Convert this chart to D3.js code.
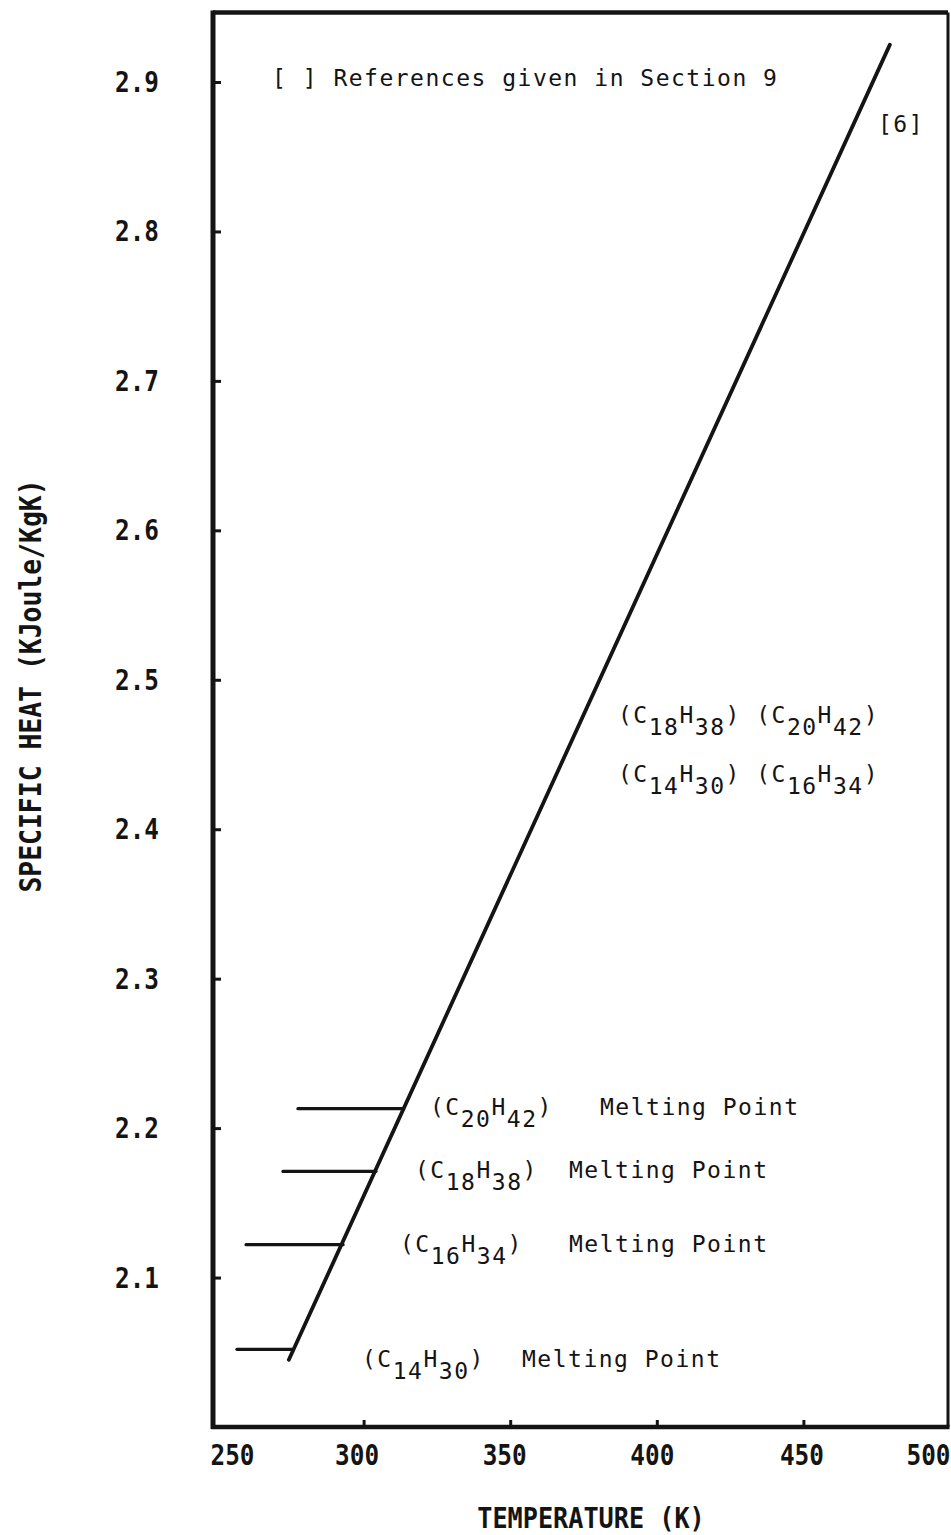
<!DOCTYPE html>
<html><head><meta charset="utf-8">
<script src="https://cdn.jsdelivr.net/npm/d3@7"></script>
<style>body{margin:0;background:#fff}svg{display:block}</style>
</head><body><svg id="c" width="951" height="1535"></svg>
<script>
// ---- data ----
const xTicks = [250, 300, 350, 400, 450, 500];
const yTicks = [2.1, 2.2, 2.3, 2.4, 2.5, 2.6, 2.7, 2.8, 2.9];
const lineTemp = [274.5, 479.5];
const lineCp = [2.045, 2.925];
const meltNames = ["C20H42", "C18H38", "C16H34", "C14H30"];
const meltCp = [2.213, 2.171, 2.122, 2.052];
const meltT0 = [277.6, 272.5, 259.9, 256.8];
const meltT1 = [313.4, 304.2, 293.0, 275.6];
const groupRow1 = ["C18H38", "C20H42"];
const groupRow2 = ["C14H30", "C16H34"];
const noteText = "[ ] References given in Section 9";
const refText = "[6]";
const xTitle = "TEMPERATURE (K)";
const yTitle = "SPECIFIC HEAT (KJoule/KgK)";

// ---- layout ----
const ink = "#141414";
const svg = d3.select("#c");
const x = d3.scaleLinear().domain([250, 500]).range([217, 950]);
const y = d3.scaleLinear().domain([2.0, 2.9]).range([1427, 82]);
const fL = 213, fR = 948, fT = 12.5, fB = 1427;
const mono = "'DejaVu Sans Mono', monospace";
const SX = 0.87;

// frame
svg.append("line").attr("x1", fL).attr("x2", fR).attr("y1", fT).attr("y2", fT)
  .attr("stroke", ink).attr("stroke-width", 4.5);
svg.append("line").attr("x1", fR).attr("x2", fR).attr("y1", fT).attr("y2", fB)
  .attr("stroke", ink).attr("stroke-width", 3);
svg.append("line").attr("x1", fL).attr("x2", fL).attr("y1", fT - 2).attr("y2", fB + 2)
  .attr("stroke", ink).attr("stroke-width", 5);
svg.append("line").attr("x1", fL - 2).attr("x2", fR + 1.5).attr("y1", fB).attr("y2", fB)
  .attr("stroke", ink).attr("stroke-width", 4.5);

// x axis
const gx = svg.append("g").attr("transform", `translate(0,${fB})`)
  .call(d3.axisBottom(x).tickValues(xTicks).tickSizeInner(-7).tickSizeOuter(0).tickFormat(d3.format("d")));
gx.select(".domain").remove();
gx.selectAll(".tick line").attr("stroke", ink).attr("stroke-width", 3)
  .attr("display", d => (d === 250 || d === 500) ? "none" : null);
const xOff = {250: 15, 300: -7, 350: -6, 400: -5, 450: -2, 500: -22};
gx.selectAll(".tick text")
  .attr("font-family", mono).attr("font-weight", "bold").attr("font-size", 28)
  .attr("fill", ink).attr("y", 0).attr("dy", 0)
  .attr("transform", d => `translate(${xOff[d]},38) scale(${SX},1)`);

// y axis
const gy = svg.append("g").attr("transform", `translate(${fL},0)`)
  .call(d3.axisLeft(y).tickValues(yTicks).tickSizeInner(-8).tickSizeOuter(0).tickFormat(d3.format(".1f")));
gy.select(".domain").remove();
gy.selectAll(".tick line").attr("stroke", ink).attr("stroke-width", 3);
gy.selectAll(".tick text")
  .attr("font-family", mono).attr("font-weight", "bold").attr("font-size", 28)
  .attr("fill", ink).attr("x", 0).attr("dy", "0.34em").attr("text-anchor", "end")
  .attr("transform", `translate(-54,0) scale(${SX},1)`);

// titles
svg.append("text").text(xTitle)
  .attr("transform", `translate(591,1528) scale(0.9,1)`)
  .attr("text-anchor", "middle").attr("font-family", mono).attr("font-weight", "bold")
  .attr("font-size", 28).attr("fill", ink);
svg.append("text").text(yTitle)
  .attr("transform", `translate(41,686) rotate(-90) scale(0.88,1)`)
  .attr("text-anchor", "middle").attr("font-family", mono).attr("font-weight", "bold")
  .attr("font-size", 30).attr("fill", ink);

// main line
const pts = lineTemp.map((t, i) => [t, lineCp[i]]);
svg.append("path").datum(pts)
  .attr("d", d3.line().x(d => x(d[0])).y(d => y(d[1])))
  .attr("fill", "none").attr("stroke", ink).attr("stroke-width", 3.8).attr("stroke-linecap", "round");

// melting point lines
const melts = meltNames.map((n, i) => ({n, cp: meltCp[i], t0: meltT0[i], t1: meltT1[i]}));
svg.selectAll("line.melt").data(melts).enter().append("line").attr("class", "melt")
  .attr("x1", d => x(d.t0)).attr("x2", d => x(d.t1))
  .attr("y1", d => y(d.cp)).attr("y2", d => y(d.cp))
  .attr("stroke", ink).attr("stroke-width", 3.2).attr("stroke-linecap", "round");

// text helpers
const regular = sel => sel.attr("font-family", mono).attr("font-size", 23)
  .attr("letter-spacing", 1.5).attr("fill", ink);
const SUB = 12;
function formula(textSel, names) {
  names.forEach((name, k) => {
    const parts = [...name.matchAll(/([A-Z])(\d+)/g)];
    let shift = 0; // current baseline offset
    const add = (s, target) => {
      const t = textSel.append("tspan").text(s);
      if (target !== shift) { t.attr("dy", target - shift); shift = target; }
    };
    add((k > 0 ? "\u00a0" : "") + "(", 0);
    parts.forEach(p => { add(p[1], 0); add(p[2], SUB); });
    add(")", 0);
  });
}

// melting labels
const meltLayout = [
  {fx: 430, by: 1115, mx: 600},
  {fx: 415, by: 1178, mx: 569},
  {fx: 400, by: 1252, mx: 569},
  {fx: 362, by: 1367, mx: 522}
];
melts.forEach((d, i) => {
  const L = meltLayout[i];
  const t = svg.append("text").attr("x", L.fx).attr("y", L.by).call(regular);
  formula(t, [d.n]);
  svg.append("text").attr("x", L.mx).attr("y", L.by).text("Melting Point").call(regular);
});

// group labels
const g1 = svg.append("text").attr("x", 618).attr("y", 723).call(regular);
formula(g1, groupRow1);
const g2 = svg.append("text").attr("x", 618).attr("y", 782).call(regular);
formula(g2, groupRow2);

// notes
svg.append("text").attr("x", 272).attr("y", 86).text(noteText).call(regular);
svg.append("text").attr("x", 878).attr("y", 132).text(refText).call(regular);
</script>
</body></html>
